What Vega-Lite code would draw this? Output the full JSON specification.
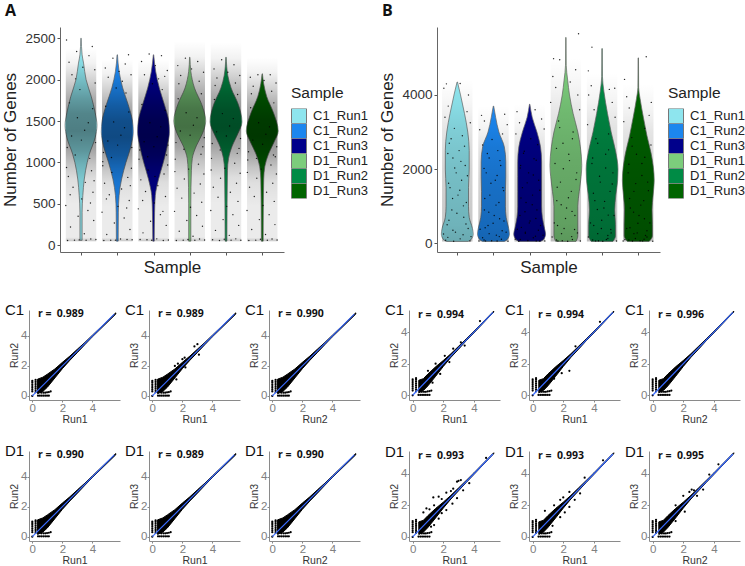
{"$schema":"https://vega.github.io/schema/vega-lite/v6.json","background":"white","padding":{"left":1,"top":3,"right":0,"bottom":0},"bounds":"flush","spacing":141,
"resolve":{"scale":{"color":"independent"},"legend":{"color":"independent"}},
"config":{"view":{"stroke":null},"font":"Liberation Sans","axis":{"grid":false,"domainColor":"#8a8a8a","domainWidth":1,"tickColor":"#8a8a8a","tickSize":2,"labelColor":"#808080","labelFontSize":11.5,"titleFontSize":10.5,"titleFontWeight":"normal","titleColor":"#333333","labelPadding":0,"titlePadding":1,"labelFont":"Liberation Sans","titleFont":"Liberation Sans"},"title":{"font":"Liberation Sans","fontSize":15,"fontWeight":"normal","anchor":"start","frame":"group","dx":-24,"offset":-9,"color":"#111111"},"text":{"font":"Open Sans","fontWeight":"bold","fontSize":10.5,"color":"#111111"}},
"datasets":{
"lineC":[{"x":0,"y":0},{"x":5.45,"y":5.45}],
"lineD":[{"x":0,"y":0},{"x":5.25,"y":5.25}],
"bandC":[{"x":0.35,"y":0.15,"y2":1.12},{"x":0.7,"y":0.3,"y2":1.25},{"x":1,"y":0.58,"y2":1.45},{"x":1.5,"y":1.2,"y2":1.8},{"x":2,"y":1.82,"y2":2.24},{"x":2.5,"y":2.38,"y2":2.66},{"x":3,"y":2.9,"y2":3.12},{"x":3.5,"y":3.43,"y2":3.57},{"x":4,"y":3.95,"y2":4.05},{"x":5.55,"y":5.46,"y2":5.54}],
"bandD":[{"x":0.4,"y":0.15,"y2":0.95},{"x":0.7,"y":0.3,"y2":1.05},{"x":1,"y":0.6,"y2":1.35},{"x":1.5,"y":1.2,"y2":1.8},{"x":2,"y":1.82,"y2":2.2},{"x":2.5,"y":2.4,"y2":2.63},{"x":3,"y":2.92,"y2":3.1},{"x":3.5,"y":3.45,"y2":3.57},{"x":4,"y":3.95,"y2":4.05},{"x":5.3,"y":5.27,"y2":5.33}],
"low":[{"x":0,"y":0},{"x":0,"y":0.3},{"x":0,"y":0.42},{"x":0,"y":0.54},{"x":0,"y":0.66},{"x":0,"y":0.78},{"x":0,"y":0.9},{"x":0,"y":1},{"x":0.22,"y":0.25},{"x":0.22,"y":0.38},{"x":0.22,"y":0.5},{"x":0.22,"y":0.62},{"x":0.22,"y":0.74},{"x":0.22,"y":0.86},{"x":0.22,"y":0.98},{"x":0.22,"y":1.08},{"x":0.38,"y":0.02},{"x":0.5,"y":0.02},{"x":0.62,"y":0.02},{"x":0.74,"y":0.02},{"x":0.86,"y":0.02},{"x":0.98,"y":0.02},{"x":1.1,"y":0.02},{"x":0.6,"y":0.22},{"x":0.74,"y":0.22},{"x":0.86,"y":0.22},{"x":0.98,"y":0.24},{"x":1.1,"y":0.26},{"x":1.22,"y":0.3}],
"vA":[
{"s":"C1_Run1","x":0.994,"x2":1.006,"y":2500},{"s":"C1_Run1","x":0.97,"x2":1.03,"y":2300},{"s":"C1_Run1","x":0.93,"x2":1.07,"y":2200},{"s":"C1_Run1","x":0.86,"x2":1.14,"y":2000},{"s":"C1_Run1","x":0.72,"x2":1.28,"y":1800},{"s":"C1_Run1","x":0.61,"x2":1.39,"y":1600},{"s":"C1_Run1","x":0.56,"x2":1.44,"y":1450},{"s":"C1_Run1","x":0.61,"x2":1.39,"y":1300},{"s":"C1_Run1","x":0.77,"x2":1.23,"y":1100},{"s":"C1_Run1","x":0.83,"x2":1.17,"y":1000},{"s":"C1_Run1","x":0.91,"x2":1.09,"y":800},{"s":"C1_Run1","x":0.95,"x2":1.05,"y":600},{"s":"C1_Run1","x":0.97,"x2":1.03,"y":400},{"s":"C1_Run1","x":0.97,"x2":1.03,"y":60},
{"s":"C1_Run2","x":1.994,"x2":2.006,"y":2300},{"s":"C1_Run2","x":1.95,"x2":2.05,"y":2100},{"s":"C1_Run2","x":1.85,"x2":2.15,"y":1900},{"s":"C1_Run2","x":1.7,"x2":2.3,"y":1700},{"s":"C1_Run2","x":1.58,"x2":2.42,"y":1500},{"s":"C1_Run2","x":1.56,"x2":2.44,"y":1370},{"s":"C1_Run2","x":1.62,"x2":2.38,"y":1200},{"s":"C1_Run2","x":1.76,"x2":2.24,"y":1000},{"s":"C1_Run2","x":1.88,"x2":2.12,"y":800},{"s":"C1_Run2","x":1.95,"x2":2.05,"y":600},{"s":"C1_Run2","x":1.97,"x2":2.03,"y":400},{"s":"C1_Run2","x":1.975,"x2":2.025,"y":50},
{"s":"C1_Run3","x":2.994,"x2":3.006,"y":2300},{"s":"C1_Run3","x":2.94,"x2":3.06,"y":2100},{"s":"C1_Run3","x":2.84,"x2":3.16,"y":1900},{"s":"C1_Run3","x":2.7,"x2":3.3,"y":1700},{"s":"C1_Run3","x":2.58,"x2":3.42,"y":1500},{"s":"C1_Run3","x":2.56,"x2":3.44,"y":1370},{"s":"C1_Run3","x":2.62,"x2":3.38,"y":1200},{"s":"C1_Run3","x":2.73,"x2":3.27,"y":1000},{"s":"C1_Run3","x":2.86,"x2":3.14,"y":800},{"s":"C1_Run3","x":2.95,"x2":3.05,"y":600},{"s":"C1_Run3","x":2.97,"x2":3.03,"y":400},{"s":"C1_Run3","x":2.98,"x2":3.02,"y":50},
{"s":"D1_Run1","x":3.994,"x2":4.006,"y":2270},{"s":"D1_Run1","x":3.97,"x2":4.03,"y":2100},{"s":"D1_Run1","x":3.87,"x2":4.13,"y":1900},{"s":"D1_Run1","x":3.67,"x2":4.33,"y":1700},{"s":"D1_Run1","x":3.56,"x2":4.44,"y":1500},{"s":"D1_Run1","x":3.65,"x2":4.35,"y":1350},{"s":"D1_Run1","x":3.82,"x2":4.18,"y":1200},{"s":"D1_Run1","x":3.93,"x2":4.07,"y":1050},{"s":"D1_Run1","x":3.955,"x2":4.045,"y":900},{"s":"D1_Run1","x":3.97,"x2":4.03,"y":500},{"s":"D1_Run1","x":3.97,"x2":4.03,"y":50},
{"s":"D1_Run2","x":4.994,"x2":5.006,"y":2270},{"s":"D1_Run2","x":4.95,"x2":5.05,"y":2050},{"s":"D1_Run2","x":4.86,"x2":5.14,"y":1900},{"s":"D1_Run2","x":4.66,"x2":5.34,"y":1700},{"s":"D1_Run2","x":4.56,"x2":5.44,"y":1490},{"s":"D1_Run2","x":4.67,"x2":5.33,"y":1350},{"s":"D1_Run2","x":4.83,"x2":5.17,"y":1200},{"s":"D1_Run2","x":4.93,"x2":5.07,"y":1050},{"s":"D1_Run2","x":4.96,"x2":5.04,"y":900},{"s":"D1_Run2","x":4.97,"x2":5.03,"y":500},{"s":"D1_Run2","x":4.975,"x2":5.025,"y":50},
{"s":"D1_Run3","x":5.994,"x2":6.006,"y":2070},{"s":"D1_Run3","x":5.96,"x2":6.04,"y":1950},{"s":"D1_Run3","x":5.88,"x2":6.12,"y":1800},{"s":"D1_Run3","x":5.69,"x2":6.31,"y":1600},{"s":"D1_Run3","x":5.56,"x2":6.44,"y":1380},{"s":"D1_Run3","x":5.67,"x2":6.33,"y":1250},{"s":"D1_Run3","x":5.83,"x2":6.17,"y":1100},{"s":"D1_Run3","x":5.93,"x2":6.07,"y":950},{"s":"D1_Run3","x":5.96,"x2":6.04,"y":800},{"s":"D1_Run3","x":5.97,"x2":6.03,"y":500},{"s":"D1_Run3","x":5.975,"x2":6.025,"y":50}],
"vB":[
{"s":"C1_Run1","x":0.994,"x2":1.006,"y":4350},{"s":"C1_Run1","x":0.91,"x2":1.09,"y":4000},{"s":"C1_Run1","x":0.8,"x2":1.2,"y":3500},{"s":"C1_Run1","x":0.71,"x2":1.29,"y":3000},{"s":"C1_Run1","x":0.67,"x2":1.33,"y":2500},{"s":"C1_Run1","x":0.67,"x2":1.33,"y":2000},{"s":"C1_Run1","x":0.69,"x2":1.31,"y":1500},{"s":"C1_Run1","x":0.69,"x2":1.31,"y":1000},{"s":"C1_Run1","x":0.67,"x2":1.33,"y":700},{"s":"C1_Run1","x":0.58,"x2":1.42,"y":400},{"s":"C1_Run1","x":0.56,"x2":1.44,"y":250},{"s":"C1_Run1","x":0.62,"x2":1.38,"y":100},{"s":"C1_Run1","x":0.7,"x2":1.3,"y":50},
{"s":"C1_Run2","x":1.994,"x2":2.006,"y":3700},{"s":"C1_Run2","x":1.94,"x2":2.06,"y":3400},{"s":"C1_Run2","x":1.85,"x2":2.15,"y":3000},{"s":"C1_Run2","x":1.7,"x2":2.3,"y":2600},{"s":"C1_Run2","x":1.66,"x2":2.34,"y":2200},{"s":"C1_Run2","x":1.66,"x2":2.34,"y":1800},{"s":"C1_Run2","x":1.67,"x2":2.33,"y":1400},{"s":"C1_Run2","x":1.67,"x2":2.33,"y":1000},{"s":"C1_Run2","x":1.65,"x2":2.35,"y":700},{"s":"C1_Run2","x":1.58,"x2":2.42,"y":400},{"s":"C1_Run2","x":1.56,"x2":2.44,"y":250},{"s":"C1_Run2","x":1.62,"x2":2.38,"y":100},{"s":"C1_Run2","x":1.7,"x2":2.3,"y":50},
{"s":"C1_Run3","x":2.994,"x2":3.006,"y":3750},{"s":"C1_Run3","x":2.93,"x2":3.07,"y":3400},{"s":"C1_Run3","x":2.8,"x2":3.2,"y":3000},{"s":"C1_Run3","x":2.7,"x2":3.3,"y":2600},{"s":"C1_Run3","x":2.67,"x2":3.33,"y":2200},{"s":"C1_Run3","x":2.67,"x2":3.33,"y":1800},{"s":"C1_Run3","x":2.67,"x2":3.33,"y":1400},{"s":"C1_Run3","x":2.67,"x2":3.33,"y":1000},{"s":"C1_Run3","x":2.65,"x2":3.35,"y":700},{"s":"C1_Run3","x":2.59,"x2":3.41,"y":400},{"s":"C1_Run3","x":2.56,"x2":3.44,"y":250},{"s":"C1_Run3","x":2.62,"x2":3.38,"y":100},{"s":"C1_Run3","x":2.7,"x2":3.3,"y":50},
{"s":"D1_Run1","x":3.994,"x2":4.006,"y":5550},{"s":"D1_Run1","x":3.99,"x2":4.01,"y":4800},{"s":"D1_Run1","x":3.95,"x2":4.05,"y":4400},{"s":"D1_Run1","x":3.9,"x2":4.1,"y":4000},{"s":"D1_Run1","x":3.8,"x2":4.2,"y":3500},{"s":"D1_Run1","x":3.67,"x2":4.33,"y":3000},{"s":"D1_Run1","x":3.6,"x2":4.4,"y":2600},{"s":"D1_Run1","x":3.56,"x2":4.44,"y":2100},{"s":"D1_Run1","x":3.58,"x2":4.42,"y":1800},{"s":"D1_Run1","x":3.63,"x2":4.37,"y":1400},{"s":"D1_Run1","x":3.67,"x2":4.33,"y":1000},{"s":"D1_Run1","x":3.67,"x2":4.33,"y":600},{"s":"D1_Run1","x":3.67,"x2":4.33,"y":200},{"s":"D1_Run1","x":3.72,"x2":4.28,"y":50},
{"s":"D1_Run2","x":4.994,"x2":5.006,"y":5250},{"s":"D1_Run2","x":4.99,"x2":5.01,"y":4500},{"s":"D1_Run2","x":4.95,"x2":5.05,"y":4100},{"s":"D1_Run2","x":4.85,"x2":5.15,"y":3500},{"s":"D1_Run2","x":4.75,"x2":5.25,"y":3000},{"s":"D1_Run2","x":4.63,"x2":5.37,"y":2500},{"s":"D1_Run2","x":4.56,"x2":5.44,"y":2000},{"s":"D1_Run2","x":4.57,"x2":5.43,"y":1700},{"s":"D1_Run2","x":4.62,"x2":5.38,"y":1300},{"s":"D1_Run2","x":4.65,"x2":5.35,"y":900},{"s":"D1_Run2","x":4.63,"x2":5.37,"y":500},{"s":"D1_Run2","x":4.63,"x2":5.37,"y":200},{"s":"D1_Run2","x":4.7,"x2":5.3,"y":50},
{"s":"D1_Run3","x":5.994,"x2":6.006,"y":5000},{"s":"D1_Run3","x":5.99,"x2":6.01,"y":4200},{"s":"D1_Run3","x":5.95,"x2":6.05,"y":3900},{"s":"D1_Run3","x":5.86,"x2":6.14,"y":3400},{"s":"D1_Run3","x":5.76,"x2":6.24,"y":2900},{"s":"D1_Run3","x":5.64,"x2":6.36,"y":2400},{"s":"D1_Run3","x":5.56,"x2":6.44,"y":1700},{"s":"D1_Run3","x":5.59,"x2":6.41,"y":1300},{"s":"D1_Run3","x":5.62,"x2":6.38,"y":900},{"s":"D1_Run3","x":5.61,"x2":6.39,"y":500},{"s":"D1_Run3","x":5.61,"x2":6.39,"y":200},{"s":"D1_Run3","x":5.7,"x2":6.3,"y":50}],
"cA":[{"x":0.58,"x2":1.42,"y":50,"y2":2383},{"x":1.58,"x2":2.42,"y":50,"y2":2250},{"x":2.58,"x2":3.42,"y":50,"y2":2250},{"x":3.58,"x2":4.42,"y":50,"y2":2467},{"x":4.58,"x2":5.42,"y":50,"y2":2450},{"x":5.58,"x2":6.42,"y":50,"y2":2267}],
"cB":[{"x":0.58,"x2":1.42,"y":50,"y2":4400},{"x":1.58,"x2":2.42,"y":50,"y2":3700},{"x":2.58,"x2":3.42,"y":50,"y2":3750},{"x":3.58,"x2":4.42,"y":50,"y2":5000},{"x":4.58,"x2":5.42,"y":50,"y2":4600},{"x":5.58,"x2":6.42,"y":50,"y2":4300}],
"pA":[
{"x":0.6,"y":2480},{"x":1.31,"y":2400},{"x":0.88,"y":2340},{"x":1.22,"y":2290},{"x":0.67,"y":2210},{"x":1.05,"y":2150},{"x":1.38,"y":2120},{"x":0.75,"y":2060},{"x":1.14,"y":60},{"x":0.95,"y":65},{"x":1.41,"y":70},{"x":0.63,"y":58},{"x":1.27,"y":75},{"x":0.82,"y":62},{"x":1.09,"y":140},{"x":0.71,"y":220},{"x":1.35,"y":300},{"x":0.92,"y":350},{"x":1.19,"y":420},{"x":0.58,"y":480},{"x":1.02,"y":560},{"x":1.33,"y":640},{"x":0.78,"y":700},{"x":1.12,"y":760},{"x":0.65,"y":830},{"x":1.29,"y":900},{"x":0.85,"y":2010},{"x":1.39,"y":1960},{"x":0.97,"y":1880},{"x":1.24,"y":1050},
{"x":0.68,"y":1720},{"x":1.32,"y":1650},{"x":0.62,"y":1180},{"x":1.4,"y":1240},{"x":0.9,"y":1540},{"x":1.1,"y":1390},{"x":0.74,"y":1320},{"x":1.2,"y":1480},{"x":1.01,"y":1270},{"x":0.84,"y":1090},{"x":0.6,"y":940},{"x":1.36,"y":780},{"x":0.7,"y":610},{"x":1.26,"y":510},
{"x":2.31,"y":2300},{"x":1.88,"y":2260},{"x":2.22,"y":2190},{"x":1.67,"y":2140},{"x":2.05,"y":2100},{"x":2.38,"y":2060},{"x":1.75,"y":2030},{"x":2.14,"y":1980},{"x":1.95,"y":62},{"x":2.41,"y":66},{"x":1.63,"y":58},{"x":2.27,"y":70},{"x":1.82,"y":60},{"x":2.09,"y":75},{"x":1.71,"y":130},{"x":2.35,"y":190},{"x":1.92,"y":270},{"x":2.19,"y":330},{"x":1.58,"y":400},{"x":2.02,"y":470},{"x":2.33,"y":540},{"x":1.78,"y":610},{"x":2.12,"y":680},{"x":1.65,"y":750},{"x":2.29,"y":820},{"x":1.85,"y":880},{"x":2.39,"y":930},{"x":1.97,"y":1900},{"x":2.24,"y":1840},{"x":1.6,"y":1010},
{"x":1.68,"y":1680},{"x":2.32,"y":1610},{"x":1.62,"y":1120},{"x":2.4,"y":1180},{"x":1.9,"y":1490},{"x":2.1,"y":1330},{"x":1.74,"y":1260},{"x":2.2,"y":1420},{"x":2.01,"y":1210},{"x":1.84,"y":1060},{"x":1.6,"y":960},{"x":2.36,"y":720},{"x":1.7,"y":560},{"x":2.26,"y":450},
{"x":2.88,"y":2310},{"x":3.22,"y":2290},{"x":2.67,"y":2220},{"x":3.05,"y":2170},{"x":3.38,"y":2110},{"x":2.75,"y":2060},{"x":3.14,"y":2010},{"x":2.95,"y":60},{"x":3.41,"y":64},{"x":2.63,"y":70},{"x":3.27,"y":58},{"x":2.82,"y":66},{"x":3.09,"y":78},{"x":2.71,"y":150},{"x":3.35,"y":240},{"x":2.92,"y":290},{"x":3.19,"y":370},{"x":2.58,"y":440},{"x":3.02,"y":510},{"x":3.33,"y":590},{"x":2.78,"y":650},{"x":3.12,"y":720},{"x":2.65,"y":790},{"x":3.29,"y":860},{"x":2.85,"y":910},{"x":3.39,"y":970},{"x":2.97,"y":1950},{"x":3.24,"y":1880},{"x":2.6,"y":1040},{"x":3.31,"y":2040},
{"x":2.68,"y":1700},{"x":3.32,"y":1630},{"x":2.62,"y":1150},{"x":3.4,"y":1210},{"x":2.9,"y":1480},{"x":3.1,"y":1310},{"x":2.74,"y":1250},{"x":3.2,"y":1430},{"x":3.01,"y":1190},{"x":2.84,"y":1070},{"x":3.36,"y":1090},{"x":2.7,"y":540},{"x":3.26,"y":410},{"x":3.04,"y":830},
{"x":3.88,"y":2260},{"x":4.22,"y":2220},{"x":3.67,"y":2170},{"x":4.05,"y":2130},{"x":4.38,"y":2090},{"x":3.75,"y":2050},{"x":4.14,"y":60},{"x":3.95,"y":70},{"x":4.41,"y":64},{"x":3.63,"y":58},{"x":4.27,"y":76},{"x":3.82,"y":62},{"x":4.09,"y":110},{"x":3.71,"y":170},{"x":4.35,"y":230},{"x":3.92,"y":300},{"x":4.19,"y":360},{"x":3.58,"y":410},{"x":4.02,"y":460},{"x":4.33,"y":520},{"x":3.78,"y":570},{"x":4.12,"y":630},{"x":3.65,"y":690},{"x":4.29,"y":740},{"x":3.85,"y":800},{"x":4.39,"y":860},{"x":3.97,"y":920},{"x":4.24,"y":980},{"x":3.6,"y":1040},{"x":4.31,"y":1100},
{"x":3.68,"y":1770},{"x":4.32,"y":1830},{"x":3.62,"y":1240},{"x":4.4,"y":1300},{"x":3.9,"y":1600},{"x":4.1,"y":1450},{"x":3.74,"y":1380},{"x":4.2,"y":1540},{"x":4.01,"y":1330},{"x":3.84,"y":1160},{"x":4.36,"y":1190},{"x":3.7,"y":1950},{"x":4.26,"y":1980},{"x":3.59,"y":890},
{"x":4.88,"y":2240},{"x":5.22,"y":2180},{"x":4.67,"y":2130},{"x":5.05,"y":2090},{"x":5.38,"y":2050},{"x":4.75,"y":2020},{"x":5.14,"y":62},{"x":4.95,"y":72},{"x":5.41,"y":60},{"x":4.63,"y":66},{"x":5.27,"y":78},{"x":4.82,"y":58},{"x":5.09,"y":120},{"x":4.71,"y":180},{"x":5.35,"y":240},{"x":4.92,"y":310},{"x":5.19,"y":370},{"x":4.58,"y":420},{"x":5.02,"y":470},{"x":5.33,"y":530},{"x":4.78,"y":580},{"x":5.12,"y":640},{"x":4.65,"y":700},{"x":5.29,"y":750},{"x":4.85,"y":810},{"x":5.39,"y":870},{"x":4.97,"y":930},{"x":5.24,"y":990},{"x":4.6,"y":1050},{"x":5.31,"y":1110},
{"x":4.68,"y":1760},{"x":5.32,"y":1820},{"x":4.62,"y":1230},{"x":5.4,"y":1290},{"x":4.9,"y":1590},{"x":5.1,"y":1440},{"x":4.74,"y":1370},{"x":5.2,"y":1530},{"x":5.01,"y":1320},{"x":4.84,"y":1150},{"x":5.36,"y":1170},{"x":4.7,"y":1930},{"x":5.26,"y":1960},{"x":4.59,"y":910},
{"x":5.88,"y":2060},{"x":6.22,"y":2060},{"x":5.67,"y":2030},{"x":6.05,"y":1990},{"x":6.38,"y":1960},{"x":5.75,"y":1920},{"x":6.14,"y":60},{"x":5.95,"y":72},{"x":6.41,"y":64},{"x":5.63,"y":58},{"x":6.27,"y":76},{"x":5.82,"y":62},{"x":6.09,"y":130},{"x":5.71,"y":190},{"x":6.35,"y":250},{"x":5.92,"y":310},{"x":6.19,"y":370},{"x":5.58,"y":420},{"x":6.02,"y":480},{"x":6.33,"y":530},{"x":5.78,"y":590},{"x":6.12,"y":640},{"x":5.65,"y":700},{"x":6.29,"y":750},{"x":5.85,"y":810},{"x":6.39,"y":860},{"x":5.97,"y":920},{"x":6.24,"y":970},{"x":5.6,"y":1030},{"x":6.31,"y":1090},
{"x":5.68,"y":1660},{"x":6.32,"y":1720},{"x":5.62,"y":1130},{"x":6.4,"y":1190},{"x":5.9,"y":1480},{"x":6.1,"y":1340},{"x":5.74,"y":1270},{"x":6.2,"y":1430},{"x":6.01,"y":1220},{"x":5.84,"y":1050},{"x":6.36,"y":1070},{"x":5.7,"y":1830},{"x":6.26,"y":1860},{"x":5.59,"y":880}],
"pB":[
{"x":0.7,"y":4300},{"x":1.08,"y":4310},{"x":1.31,"y":4000},{"x":0.63,"y":4180},{"x":0.75,"y":3700},{"x":1.27,"y":3550},{"x":0.66,"y":3400},{"x":1.36,"y":3250},{"x":0.92,"y":3100},{"x":1.14,"y":2900},{"x":0.78,"y":2700},{"x":1.05,"y":2500},{"x":0.88,"y":2300},{"x":1.22,"y":2100},{"x":0.97,"y":1900},{"x":1.12,"y":1700},{"x":0.8,"y":1500},{"x":1.02,"y":1300},{"x":1.25,"y":1100},{"x":0.85,"y":900},{"x":1.18,"y":700},{"x":0.72,"y":500},{"x":1.3,"y":400},{"x":0.95,"y":300},{"x":0.62,"y":250},{"x":1.38,"y":180},{"x":1.08,"y":120},{"x":0.68,"y":80},{"x":1.35,"y":60},{"x":0.9,"y":55},
{"x":0.83,"y":2820},{"x":1.2,"y":2620},{"x":0.74,"y":2420},{"x":1.1,"y":2210},{"x":0.93,"y":2030},{"x":1.28,"y":1820},{"x":0.76,"y":1620},{"x":1.07,"y":1430},{"x":0.87,"y":1210},{"x":1.17,"y":1010},{"x":0.99,"y":810},{"x":0.77,"y":620},{"x":1.24,"y":520},{"x":0.88,"y":350},{"x":1.16,"y":230},{"x":0.74,"y":160},
{"x":1.67,"y":3450},{"x":2.31,"y":3480},{"x":1.75,"y":3300},{"x":2.38,"y":3200},{"x":1.62,"y":3060},{"x":2.25,"y":2950},{"x":1.96,"y":2800},{"x":1.7,"y":2650},{"x":2.12,"y":2500},{"x":1.88,"y":2300},{"x":2.2,"y":2100},{"x":1.8,"y":1900},{"x":2.05,"y":1700},{"x":2.26,"y":1500},{"x":1.9,"y":1300},{"x":2.15,"y":1100},{"x":1.75,"y":900},{"x":2.02,"y":750},{"x":2.29,"y":600},{"x":1.85,"y":480},{"x":1.63,"y":380},{"x":2.35,"y":300},{"x":2.08,"y":220},{"x":1.7,"y":150},{"x":2.22,"y":110},{"x":1.95,"y":70},{"x":1.6,"y":60},{"x":2.4,"y":55},{"x":2.1,"y":60},{"x":1.78,"y":65},
{"x":1.83,"y":2420},{"x":2.18,"y":2230},{"x":1.74,"y":2020},{"x":2.1,"y":1830},{"x":1.93,"y":1620},{"x":2.28,"y":1420},{"x":1.76,"y":1210},{"x":2.07,"y":1030},{"x":1.87,"y":840},{"x":2.17,"y":660},{"x":1.99,"y":540},{"x":1.77,"y":420},{"x":2.24,"y":340},{"x":1.88,"y":260},{"x":2.16,"y":180},{"x":1.74,"y":90},
{"x":2.65,"y":3550},{"x":3.15,"y":3600},{"x":3.33,"y":3350},{"x":2.72,"y":3250},{"x":3.4,"y":3080},{"x":2.62,"y":2950},{"x":3.03,"y":2820},{"x":3.22,"y":2660},{"x":2.85,"y":2480},{"x":3.12,"y":2280},{"x":2.75,"y":2100},{"x":2.97,"y":1900},{"x":3.25,"y":1700},{"x":2.8,"y":1500},{"x":3.08,"y":1300},{"x":2.9,"y":1100},{"x":3.2,"y":900},{"x":2.73,"y":750},{"x":3.01,"y":600},{"x":3.3,"y":480},{"x":2.66,"y":380},{"x":2.88,"y":300},{"x":3.37,"y":220},{"x":3.1,"y":150},{"x":2.6,"y":110},{"x":2.95,"y":75},{"x":3.28,"y":60},{"x":2.7,"y":55},{"x":3.18,"y":65},{"x":3.42,"y":60},
{"x":2.83,"y":2430},{"x":3.18,"y":2240},{"x":2.74,"y":2030},{"x":3.1,"y":1840},{"x":2.93,"y":1630},{"x":3.28,"y":1430},{"x":2.76,"y":1220},{"x":3.07,"y":1040},{"x":2.87,"y":850},{"x":3.17,"y":670},{"x":2.99,"y":550},{"x":2.77,"y":430},{"x":3.24,"y":350},{"x":2.88,"y":270},{"x":3.16,"y":190},{"x":2.74,"y":100},
{"x":4.35,"y":5650},{"x":3.66,"y":4980},{"x":3.83,"y":4950},{"x":4.27,"y":4680},{"x":3.64,"y":4500},{"x":4.12,"y":4350},{"x":3.72,"y":4200},{"x":4.33,"y":4000},{"x":3.58,"y":3800},{"x":4.38,"y":3600},{"x":3.8,"y":3300},{"x":4.2,"y":3000},{"x":3.92,"y":2700},{"x":4.08,"y":2400},{"x":3.7,"y":2150},{"x":4.3,"y":1900},{"x":3.85,"y":1650},{"x":4.15,"y":1400},{"x":3.75,"y":1150},{"x":4.02,"y":950},{"x":4.25,"y":750},{"x":3.68,"y":550},{"x":3.95,"y":400},{"x":4.32,"y":280},{"x":3.62,"y":170},{"x":4.18,"y":100},{"x":3.78,"y":65},{"x":4.4,"y":60},{"x":4.05,"y":55},{"x":3.9,"y":70},
{"x":3.83,"y":3120},{"x":4.18,"y":2820},{"x":3.74,"y":2560},{"x":4.1,"y":2230},{"x":3.93,"y":2010},{"x":4.28,"y":1720},{"x":3.76,"y":1510},{"x":4.07,"y":1230},{"x":3.87,"y":1040},{"x":4.17,"y":860},{"x":3.99,"y":670},{"x":3.77,"y":480},{"x":4.24,"y":370},{"x":3.88,"y":260},{"x":4.16,"y":180},{"x":3.74,"y":90},
{"x":4.62,"y":4650},{"x":4.72,"y":5290},{"x":5.2,"y":4150},{"x":4.7,"y":4250},{"x":5.35,"y":4180},{"x":4.63,"y":4000},{"x":5.28,"y":3800},{"x":4.78,"y":3600},{"x":5.36,"y":3400},{"x":4.6,"y":3200},{"x":5.18,"y":2950},{"x":4.88,"y":2700},{"x":5.1,"y":2400},{"x":4.72,"y":2150},{"x":5.3,"y":1900},{"x":4.95,"y":1650},{"x":5.22,"y":1400},{"x":4.8,"y":1150},{"x":5.05,"y":950},{"x":5.33,"y":750},{"x":4.68,"y":550},{"x":4.98,"y":400},{"x":5.25,"y":280},{"x":4.62,"y":170},{"x":5.12,"y":100},{"x":4.82,"y":65},{"x":5.4,"y":60},{"x":5.02,"y":55},{"x":4.9,"y":70},{"x":5.16,"y":130},
{"x":4.83,"y":2820},{"x":5.18,"y":2520},{"x":4.74,"y":2300},{"x":5.1,"y":2030},{"x":4.93,"y":1810},{"x":5.28,"y":1600},{"x":4.76,"y":1350},{"x":5.07,"y":1130},{"x":4.87,"y":910},{"x":5.17,"y":760},{"x":4.99,"y":620},{"x":4.77,"y":480},{"x":5.24,"y":370},{"x":4.88,"y":260},{"x":5.16,"y":210},{"x":4.74,"y":90},
{"x":5.62,"y":4420},{"x":6.22,"y":5030},{"x":5.68,"y":3950},{"x":6.36,"y":3800},{"x":5.75,"y":3650},{"x":6.3,"y":3450},{"x":5.6,"y":3280},{"x":6.18,"y":3100},{"x":5.82,"y":2850},{"x":6.35,"y":2650},{"x":5.95,"y":2400},{"x":6.1,"y":2150},{"x":5.72,"y":1900},{"x":6.26,"y":1650},{"x":5.88,"y":1400},{"x":6.15,"y":1150},{"x":5.78,"y":950},{"x":6.02,"y":750},{"x":6.32,"y":550},{"x":5.68,"y":400},{"x":5.97,"y":280},{"x":6.24,"y":170},{"x":5.63,"y":100},{"x":6.12,"y":65},{"x":5.84,"y":60},{"x":6.4,"y":55},{"x":6.05,"y":70},{"x":5.92,"y":130},{"x":6.2,"y":210},{"x":5.58,"y":60},
{"x":5.83,"y":2620},{"x":6.18,"y":2320},{"x":5.74,"y":2130},{"x":6.1,"y":1830},{"x":5.93,"y":1610},{"x":6.28,"y":1420},{"x":5.76,"y":1210},{"x":6.07,"y":1030},{"x":5.87,"y":840},{"x":6.17,"y":660},{"x":5.99,"y":540},{"x":5.77,"y":420},{"x":6.24,"y":340},{"x":5.88,"y":260},{"x":6.16,"y":110},{"x":5.74,"y":90}]
},
"vconcat":[
{"hconcat":[
{"width":1,"height":1,"mark":{"type":"rule","opacity":0},"encoding":{}},
{"width":224,"height":225,"title":{"text":"A","font":"Open Sans","fontWeight":"bold","fontSize":16,"dx":-55,"offset":8},
"encoding":{"x":{"field":"x","type":"quantitative","stack":null,"scale":{"domain":[0.42,6.6]},"title":"Sample","axis":{"values":[1,2,3,4,5,6],"labels":false,"tickSize":3,"tickColor":"#555555","domainColor":"#666666","titleFontSize":17,"titleColor":"#222222","titlePadding":4}},"y":{"field":"y","type":"quantitative","scale":{"domain":[-81,2636]},"title":"Number of Genes","axis":{"values":[0,500,1000,1500,2000,2500],"format":"d","tickSize":3,"tickColor":"#555555","domainColor":"#666666","labelFontSize":13.5,"labelColor":"#333333","titleFontSize":17,"titleColor":"#222222","labelPadding":2,"titlePadding":5}}},
"layer":[
{"data":{"name":"vA"},"mark":{"type":"area","orient":"horizontal","interpolate":"monotone","stroke":"#666666","strokeWidth":0.7},"encoding":{"x2":{"field":"x2"},"color":{"field":"s","type":"nominal","scale":{"domain":["C1_Run1","C1_Run2","C1_Run3","D1_Run1","D1_Run2","D1_Run3"],"range":["#8EE5EE","#1C86EE","#00008B","#7CCD7C","#008B45","#006400"]},"legend":{"orient":"none","legendX":231,"legendY":59,"title":"Sample","titleFontSize":15.5,"titleFontWeight":"normal","titleColor":"#222222","labelFontSize":13,"labelColor":"#222222","symbolType":"square","symbolSize":225,"symbolOpacity":1,"symbolStrokeColor":"#777777","symbolStrokeWidth":1,"rowPadding":0,"clipHeight":15,"labelOffset":6,"titlePadding":7}}}},
{"data":{"name":"cA"},"mark":{"type":"rect","fill":{"gradient":"linear","x1":0,"y1":1,"x2":0,"y2":0,"stops":[{"offset":0,"color":"rgba(0,0,0,0.22)"},{"offset":0.02,"color":"rgba(0,0,0,0.08)"},{"offset":0.19,"color":"rgba(0,0,0,0.08)"},{"offset":0.32,"color":"rgba(0,0,0,0.13)"},{"offset":0.4,"color":"rgba(0,0,0,0.23)"},{"offset":0.47,"color":"rgba(0,0,0,0.35)"},{"offset":0.57,"color":"rgba(0,0,0,0.45)"},{"offset":0.66,"color":"rgba(0,0,0,0.42)"},{"offset":0.74,"color":"rgba(0,0,0,0.32)"},{"offset":0.83,"color":"rgba(0,0,0,0.18)"},{"offset":0.92,"color":"rgba(0,0,0,0.05)"},{"offset":1,"color":"rgba(0,0,0,0)"}]}},"encoding":{"x2":{"field":"x2"},"y2":{"field":"y2"}}},
{"data":{"name":"pA"},"mark":{"type":"circle","size":2,"color":"black","opacity":0.85},"encoding":{}}
]},
{"width":93,"height":1,"mark":{"type":"rule","opacity":0},"encoding":{}},
{"width":223,"height":225,"title":{"text":"B","font":"Open Sans","fontWeight":"bold","fontSize":16,"dx":-55,"offset":8},
"encoding":{"x":{"field":"x","type":"quantitative","stack":null,"scale":{"domain":[0.44,6.6]},"title":"Sample","axis":{"values":[1,2,3,4,5,6],"labels":false,"tickSize":3,"tickColor":"#555555","domainColor":"#666666","titleFontSize":17,"titleColor":"#222222","titlePadding":4}},"y":{"field":"y","type":"quantitative","scale":{"domain":[-235,5833]},"title":"Number of Genes","axis":{"values":[0,2000,4000],"format":"d","tickSize":3,"tickColor":"#555555","domainColor":"#666666","labelFontSize":13.5,"labelColor":"#333333","titleFontSize":17,"titleColor":"#222222","labelPadding":2,"titlePadding":5}}},
"layer":[
{"data":{"name":"vB"},"mark":{"type":"area","orient":"horizontal","interpolate":"monotone","stroke":"#666666","strokeWidth":0.7},"encoding":{"x2":{"field":"x2"},"color":{"field":"s","type":"nominal","scale":{"domain":["C1_Run1","C1_Run2","C1_Run3","D1_Run1","D1_Run2","D1_Run3"],"range":["#8EE5EE","#1C86EE","#00008B","#7CCD7C","#008B45","#006400"]},"legend":{"orient":"none","legendX":231,"legendY":59,"title":"Sample","titleFontSize":15.5,"titleFontWeight":"normal","titleColor":"#222222","labelFontSize":13,"labelColor":"#222222","symbolType":"square","symbolSize":225,"symbolOpacity":1,"symbolStrokeColor":"#777777","symbolStrokeWidth":1,"rowPadding":0,"clipHeight":15,"labelOffset":6,"titlePadding":7}}}},
{"data":{"name":"cB"},"mark":{"type":"rect","fill":{"gradient":"linear","x1":0,"y1":1,"x2":0,"y2":0,"stops":[{"offset":0,"color":"rgba(0,0,0,0.26)"},{"offset":0.1,"color":"rgba(0,0,0,0.22)"},{"offset":0.45,"color":"rgba(0,0,0,0.17)"},{"offset":0.7,"color":"rgba(0,0,0,0.1)"},{"offset":0.85,"color":"rgba(0,0,0,0.04)"},{"offset":1,"color":"rgba(0,0,0,0)"}]}},"encoding":{"x2":{"field":"x2"},"y2":{"field":"y2"}}},
{"data":{"name":"pB"},"mark":{"type":"circle","size":2,"color":"black","opacity":0.85},"encoding":{}}
]}
],"spacing":30,"bounds":"flush","resolve":{"scale":{"color":"independent"},"legend":{"color":"independent"}}},
{"width":1,"height":1,"mark":{"type":"rule","opacity":0},"encoding":{}},
{"hconcat":[
{"hconcat":[
{"width":91,"height":90,"title":"C1","encoding":{"x":{"field":"x","type":"quantitative","scale":{"domain":[-0.22,5.83]},"title":"Run1"},"y":{"field":"y","type":"quantitative","scale":{"domain":[-0.27,5.73]},"title":"Run2"}},"layer":[{"data":{"name":"bandC"},"mark":{"type":"area","color":"black","stroke":"black","strokeWidth":1},"encoding":{"y2":{"field":"y2"}}},{"data":{"name":"low"},"mark":{"type":"circle","size":5,"color":"black","opacity":1},"encoding":{}},{"data":{"name":"lineC"},"mark":{"type":"line","color":"#3A6BFF","strokeWidth":1.2},"encoding":{}},{"data":{"values":[{"x":1.9,"y":5.47,"t":"r = \u00a00.989"}]},"mark":{"type":"text"},"encoding":{"text":{"field":"t"}}}]},
{"width":91,"height":90,"title":"C1","encoding":{"x":{"field":"x","type":"quantitative","scale":{"domain":[-0.22,5.83]},"title":"Run1"},"y":{"field":"y","type":"quantitative","scale":{"domain":[-0.27,5.73]},"title":"Run3"}},"layer":[{"data":{"name":"bandC"},"mark":{"type":"area","color":"black","stroke":"black","strokeWidth":1},"encoding":{"y2":{"field":"y2"}}},{"data":{"name":"low"},"mark":{"type":"circle","size":5,"color":"black","opacity":1},"encoding":{}},{"data":{"values":[{"x":1.5,"y":2.0},{"x":1.7,"y":2.15},{"x":2,"y":2.45},{"x":2.15,"y":2.55},{"x":2.8,"y":3.3},{"x":3.0,"y":3.45},{"x":1.6,"y":1.1},{"x":2.2,"y":1.9},{"x":3.1,"y":2.75}]},"mark":{"type":"circle","size":5,"color":"black","opacity":1},"encoding":{}},{"data":{"name":"lineC"},"mark":{"type":"line","color":"#3A6BFF","strokeWidth":1.2},"encoding":{}},{"data":{"values":[{"x":1.9,"y":5.47,"t":"r = \u00a00.989"}]},"mark":{"type":"text"},"encoding":{"text":{"field":"t"}}}]},
{"width":91,"height":90,"title":"C1","encoding":{"x":{"field":"x","type":"quantitative","scale":{"domain":[-0.22,5.83]},"title":"Run2"},"y":{"field":"y","type":"quantitative","scale":{"domain":[-0.27,5.73]},"title":"Run3"}},"layer":[{"data":{"name":"bandC"},"mark":{"type":"area","color":"black","stroke":"black","strokeWidth":1},"encoding":{"y2":{"field":"y2"}}},{"data":{"name":"low"},"mark":{"type":"circle","size":5,"color":"black","opacity":1},"encoding":{}},{"data":{"name":"lineC"},"mark":{"type":"line","color":"#3A6BFF","strokeWidth":1.2},"encoding":{}},{"data":{"values":[{"x":1.9,"y":5.47,"t":"r = \u00a00.990"}]},"mark":{"type":"text"},"encoding":{"text":{"field":"t"}}}]}
],"spacing":29,"bounds":"flush"},
{"hconcat":[
{"width":91,"height":90,"title":"C1","encoding":{"x":{"field":"x","type":"quantitative","scale":{"domain":[-0.24,5.71]},"title":"Run1"},"y":{"field":"y","type":"quantitative","scale":{"domain":[-0.3,5.4]},"title":"Run2"}},"layer":[{"data":{"name":"bandD"},"mark":{"type":"area","color":"black","stroke":"black","strokeWidth":1},"encoding":{"y2":{"field":"y2"}}},{"data":{"name":"low"},"mark":{"type":"circle","size":5,"color":"black","opacity":1},"encoding":{}},{"data":{"values":[{"x":4.4,"y":4.7},{"x":1,"y":1.55},{"x":1.5,"y":2},{"x":2.1,"y":2.5},{"x":2.65,"y":2.95},{"x":3.15,"y":3.35},{"x":1.8,"y":1.35},{"x":2.4,"y":2.1},{"x":1.3,"y":0.8},{"x":3.4,"y":3.15}]},"mark":{"type":"circle","size":5,"color":"black","opacity":1},"encoding":{}},{"data":{"name":"lineD"},"mark":{"type":"line","color":"#3A6BFF","strokeWidth":1.2},"encoding":{}},{"data":{"values":[{"x":1.85,"y":5.08,"t":"r = \u00a00.994"}]},"mark":{"type":"text"},"encoding":{"text":{"field":"t"}}}]},
{"width":91,"height":90,"title":"C1","encoding":{"x":{"field":"x","type":"quantitative","scale":{"domain":[-0.24,5.71]},"title":"Run1"},"y":{"field":"y","type":"quantitative","scale":{"domain":[-0.3,5.4]},"title":"Run3"}},"layer":[{"data":{"name":"bandD"},"mark":{"type":"area","color":"black","stroke":"black","strokeWidth":1},"encoding":{"y2":{"field":"y2"}}},{"data":{"name":"low"},"mark":{"type":"circle","size":5,"color":"black","opacity":1},"encoding":{}},{"data":{"values":[{"x":4.4,"y":4.65},{"x":2.4,"y":1.55},{"x":1.9,"y":1.4},{"x":1.4,"y":1.05},{"x":2.8,"y":3.1}]},"mark":{"type":"circle","size":5,"color":"black","opacity":1},"encoding":{}},{"data":{"name":"lineD"},"mark":{"type":"line","color":"#3A6BFF","strokeWidth":1.2},"encoding":{}},{"data":{"values":[{"x":1.85,"y":5.08,"t":"r = \u00a00.994"}]},"mark":{"type":"text"},"encoding":{"text":{"field":"t"}}}]},
{"width":91,"height":90,"title":"C1","encoding":{"x":{"field":"x","type":"quantitative","scale":{"domain":[-0.24,5.71]},"title":"Run2"},"y":{"field":"y","type":"quantitative","scale":{"domain":[-0.3,5.4]},"title":"Run3"}},"layer":[{"data":{"name":"bandD"},"mark":{"type":"area","color":"black","stroke":"black","strokeWidth":1},"encoding":{"y2":{"field":"y2"}}},{"data":{"name":"low"},"mark":{"type":"circle","size":5,"color":"black","opacity":1},"encoding":{}},{"data":{"name":"lineD"},"mark":{"type":"line","color":"#3A6BFF","strokeWidth":1.2},"encoding":{}},{"data":{"values":[{"x":1.85,"y":5.08,"t":"r = \u00a00.996"}]},"mark":{"type":"text"},"encoding":{"text":{"field":"t"}}}]}
],"spacing":29,"bounds":"flush"}
],"spacing":380,"bounds":"flush"},
{"hconcat":[
{"hconcat":[
{"width":91,"height":90,"title":"D1","encoding":{"x":{"field":"x","type":"quantitative","scale":{"domain":[-0.22,5.83]},"title":"Run1"},"y":{"field":"y","type":"quantitative","scale":{"domain":[-0.29,5.71]},"title":"Run2"}},"layer":[{"data":{"name":"bandC"},"mark":{"type":"area","color":"black","stroke":"black","strokeWidth":1},"encoding":{"y2":{"field":"y2"}}},{"data":{"name":"low"},"mark":{"type":"circle","size":5,"color":"black","opacity":1},"encoding":{}},{"data":{"name":"lineC"},"mark":{"type":"line","color":"#3A6BFF","strokeWidth":1.2},"encoding":{}},{"data":{"values":[{"x":1.9,"y":5.47,"t":"r = \u00a00.990"}]},"mark":{"type":"text"},"encoding":{"text":{"field":"t"}}}]},
{"width":91,"height":90,"title":"D1","encoding":{"x":{"field":"x","type":"quantitative","scale":{"domain":[-0.22,5.83]},"title":"Run1"},"y":{"field":"y","type":"quantitative","scale":{"domain":[-0.29,5.71]},"title":"Run3"}},"layer":[{"data":{"name":"bandC"},"mark":{"type":"area","color":"black","stroke":"black","strokeWidth":1},"encoding":{"y2":{"field":"y2"}}},{"data":{"name":"low"},"mark":{"type":"circle","size":5,"color":"black","opacity":1},"encoding":{}},{"data":{"name":"lineC"},"mark":{"type":"line","color":"#3A6BFF","strokeWidth":1.2},"encoding":{}},{"data":{"values":[{"x":1.9,"y":5.47,"t":"r = \u00a00.989"}]},"mark":{"type":"text"},"encoding":{"text":{"field":"t"}}}]},
{"width":91,"height":90,"title":"D1","encoding":{"x":{"field":"x","type":"quantitative","scale":{"domain":[-0.22,5.83]},"title":"Run2"},"y":{"field":"y","type":"quantitative","scale":{"domain":[-0.29,5.71]},"title":"Run3"}},"layer":[{"data":{"name":"bandC"},"mark":{"type":"area","color":"black","stroke":"black","strokeWidth":1},"encoding":{"y2":{"field":"y2"}}},{"data":{"name":"low"},"mark":{"type":"circle","size":5,"color":"black","opacity":1},"encoding":{}},{"data":{"name":"lineC"},"mark":{"type":"line","color":"#3A6BFF","strokeWidth":1.2},"encoding":{}},{"data":{"values":[{"x":1.9,"y":5.47,"t":"r = \u00a00.990"}]},"mark":{"type":"text"},"encoding":{"text":{"field":"t"}}}]}
],"spacing":29,"bounds":"flush"},
{"hconcat":[
{"width":91,"height":90,"title":"D1","encoding":{"x":{"field":"x","type":"quantitative","scale":{"domain":[-0.24,5.71]},"title":"Run1"},"y":{"field":"y","type":"quantitative","scale":{"domain":[-0.26,5.44]},"title":"Run2"}},"layer":[{"data":{"name":"bandD"},"mark":{"type":"area","color":"black","stroke":"black","strokeWidth":1},"encoding":{"y2":{"field":"y2"}}},{"data":{"name":"low"},"mark":{"type":"circle","size":5,"color":"black","opacity":1},"encoding":{}},{"data":{"values":[{"x":0.9,"y":1.8},{"x":0.7,"y":1.55},{"x":1.1,"y":1.75},{"x":1.4,"y":2},{"x":1.35,"y":2.5},{"x":1.7,"y":2.55},{"x":1.9,"y":2.4},{"x":2.2,"y":2.8},{"x":2.5,"y":2.9},{"x":2.65,"y":3.05},{"x":2.9,"y":3.5},{"x":3,"y":3.55},{"x":3.15,"y":3.6},{"x":4.8,"y":5},{"x":1.7,"y":1.15},{"x":1.9,"y":1.5},{"x":2.2,"y":1.7},{"x":2.6,"y":2.1},{"x":2.9,"y":2.45},{"x":3.3,"y":2.95},{"x":1.2,"y":0.65},{"x":1.4,"y":0.75},{"x":3.7,"y":3.4}]},"mark":{"type":"circle","size":5,"color":"black","opacity":1},"encoding":{}},{"data":{"name":"lineD"},"mark":{"type":"line","color":"#3A6BFF","strokeWidth":1.2},"encoding":{}},{"data":{"values":[{"x":1.85,"y":5.12,"t":"r = \u00a00.993"}]},"mark":{"type":"text"},"encoding":{"text":{"field":"t"}}}]},
{"width":91,"height":90,"title":"D1","encoding":{"x":{"field":"x","type":"quantitative","scale":{"domain":[-0.24,5.71]},"title":"Run1"},"y":{"field":"y","type":"quantitative","scale":{"domain":[-0.26,5.44]},"title":"Run3"}},"layer":[{"data":{"name":"bandD"},"mark":{"type":"area","color":"black","stroke":"black","strokeWidth":1},"encoding":{"y2":{"field":"y2"}}},{"data":{"name":"low"},"mark":{"type":"circle","size":5,"color":"black","opacity":1},"encoding":{}},{"data":{"values":[{"x":0.8,"y":1.65},{"x":1.4,"y":2.0},{"x":1.8,"y":2.35},{"x":2,"y":2.5},{"x":2.4,"y":2.85},{"x":1.3,"y":0.7},{"x":1.8,"y":1.25},{"x":2.1,"y":1.55},{"x":2.4,"y":1.9},{"x":2.75,"y":2.35},{"x":3.1,"y":2.75},{"x":4.6,"y":4.85},{"x":3.4,"y":3.75}]},"mark":{"type":"circle","size":5,"color":"black","opacity":1},"encoding":{}},{"data":{"name":"lineD"},"mark":{"type":"line","color":"#3A6BFF","strokeWidth":1.2},"encoding":{}},{"data":{"values":[{"x":1.85,"y":5.12,"t":"r = \u00a00.993"}]},"mark":{"type":"text"},"encoding":{"text":{"field":"t"}}}]},
{"width":91,"height":90,"title":"D1","encoding":{"x":{"field":"x","type":"quantitative","scale":{"domain":[-0.24,5.71]},"title":"Run2"},"y":{"field":"y","type":"quantitative","scale":{"domain":[-0.26,5.44]},"title":"Run3"}},"layer":[{"data":{"name":"bandD"},"mark":{"type":"area","color":"black","stroke":"black","strokeWidth":1},"encoding":{"y2":{"field":"y2"}}},{"data":{"name":"low"},"mark":{"type":"circle","size":5,"color":"black","opacity":1},"encoding":{}},{"data":{"values":[{"x":1.5,"y":2},{"x":2,"y":2.6},{"x":2.4,"y":2.85},{"x":2.55,"y":3},{"x":2.7,"y":2.95},{"x":1.5,"y":1},{"x":2.1,"y":1.6},{"x":2.9,"y":2.6},{"x":3.3,"y":3},{"x":4.3,"y":4.6},{"x":3.7,"y":3.95}]},"mark":{"type":"circle","size":5,"color":"black","opacity":1},"encoding":{}},{"data":{"name":"lineD"},"mark":{"type":"line","color":"#3A6BFF","strokeWidth":1.2},"encoding":{}},{"data":{"values":[{"x":1.85,"y":5.12,"t":"r = \u00a00.995"}]},"mark":{"type":"text"},"encoding":{"text":{"field":"t"}}}]}
],"spacing":29,"bounds":"flush"}
],"spacing":380,"bounds":"flush"}
]}
